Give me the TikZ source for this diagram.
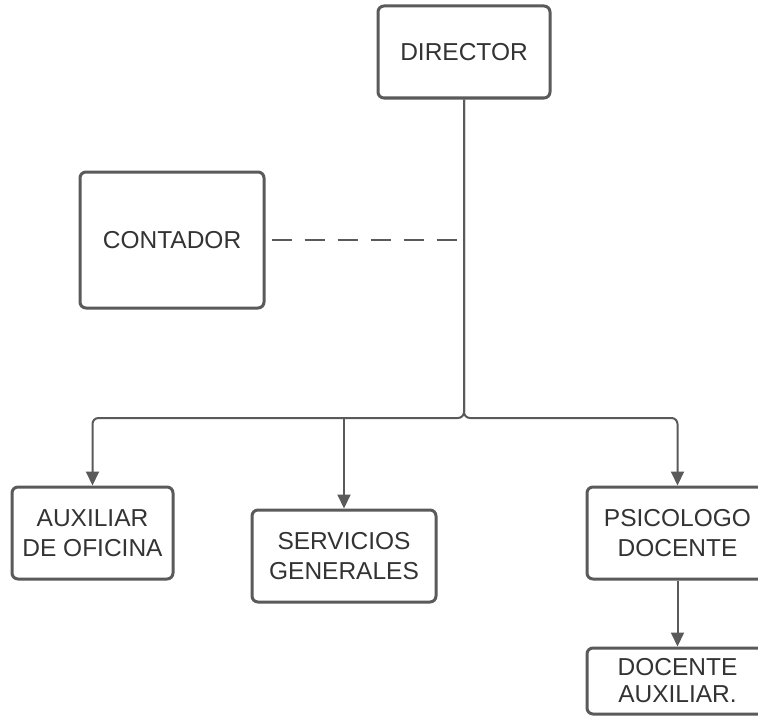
\documentclass[tikz,border=0pt]{standalone}
\usepackage{fontspec}
\setmainfont{Liberation Sans}
\usetikzlibrary{arrows.meta}
\definecolor{linec}{HTML}{5A5A5A}
\definecolor{textc}{HTML}{333333}
\tikzset{
  box/.style={draw=linec, line width=3pt, rounded corners=6pt, fill=white,
    text=textc, align=center, inner sep=0pt,
    font=\fontsize{24.5}{29.5}\selectfont},
  conn/.style={draw=linec, line width=2pt},
  arr/.style={conn, -{Triangle[length=14pt,width=13pt]}},
  dashline/.style={conn, dash pattern=on 20pt off 13pt}
}
\begin{document}
\begin{tikzpicture}[x=1pt,y=-1pt]
\useasboundingbox (0,0) rectangle (758,717);
\clip (0,0) rectangle (758,717);
\fill[white] (0,0) rectangle (758,717);
\node[box, minimum width=172pt, minimum height=92pt] (dir) at (464,52) {DIRECTOR};
\node[box, minimum width=184pt, minimum height=136pt] (cont) at (172,240) {CONTADOR};
\node[box, minimum width=161pt, minimum height=92pt] (aux) at (92.5,533) {AUXILIAR\\DE OFICINA};
\node[box, minimum width=184pt, minimum height=92pt] (serv) at (344,556) {SERVICIOS\\GENERALES};
\node[box, minimum width=181pt, minimum height=92pt] (psi) at (677.5,533) {PSICOLOGO\\DOCENTE};
\node[box, minimum width=181pt, minimum height=66pt, font=\fontsize{24.5}{27}\selectfont] (doc) at (677.5,681) {DOCENTE\\AUXILIAR.};
\coordinate (j) at (464,418);
\draw[arr, rounded corners=6pt] (dir.south) -- (j) -| (aux.north);
\draw[arr, rounded corners=6pt] (dir.south) -- (j) -| (psi.north);
\draw[arr] (serv.north |- j) -- (serv.north);
\draw[arr] (psi.south) -- (doc.north);
\draw[dashline] ([xshift=6pt]cont.east) -- (cont.east -| dir.south);
\end{tikzpicture}
\end{document}
